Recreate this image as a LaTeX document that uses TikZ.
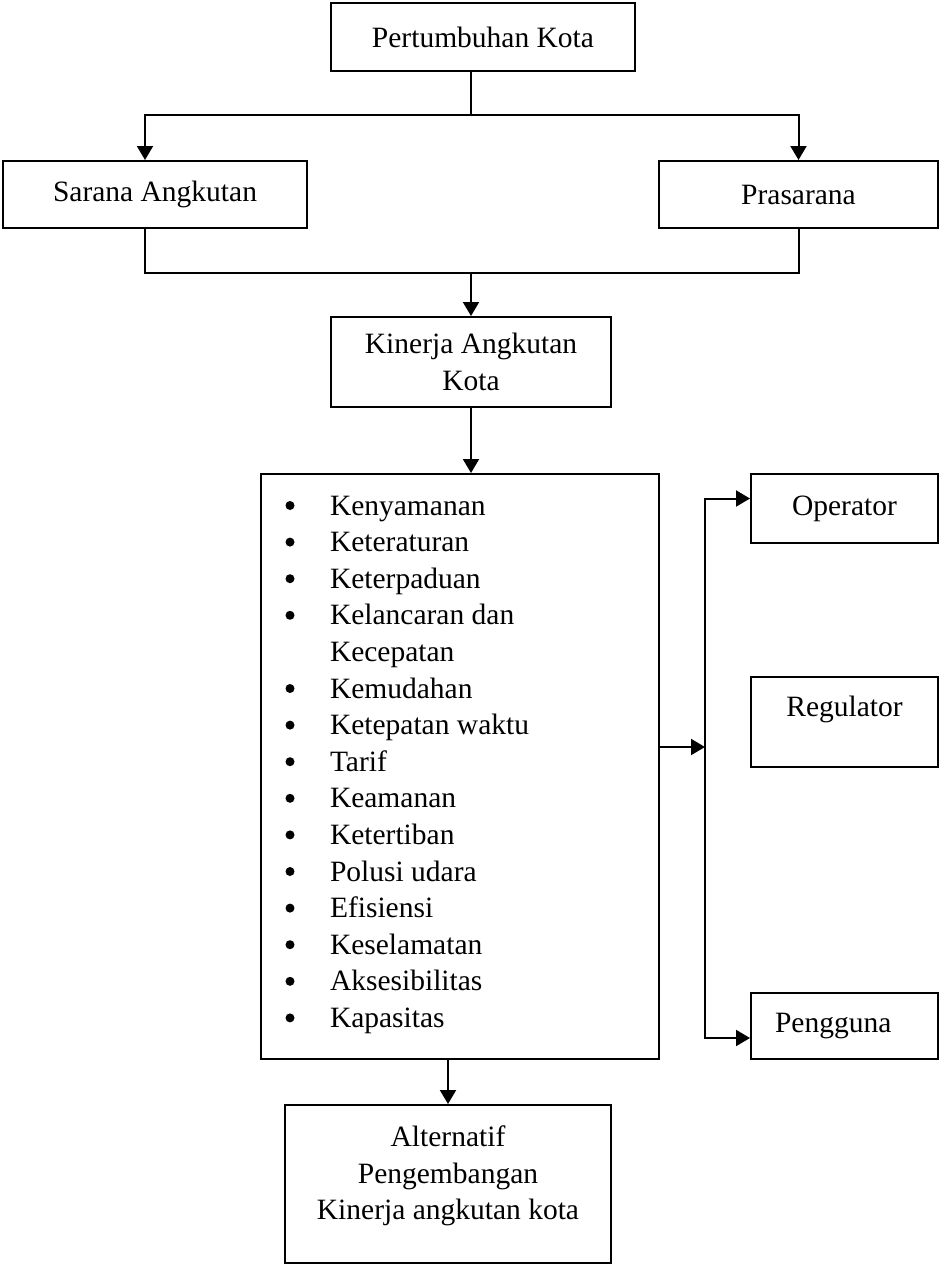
\documentclass[tikz,border=0pt]{standalone}
\usepackage{fontspec}
\setmainfont{Liberation Serif}
\usetikzlibrary{arrows.meta,positioning,calc}

\begin{document}
\begin{tikzpicture}[x=1pt, y=-1pt, line width=2pt,
    every node/.style={font=\fontsize{29.5}{36.6}\selectfont, inner sep=0pt},
    box/.style={draw, line width=2pt, align=center},
    arr/.style={-{Triangle[length=14pt,width=16pt]}},
    item/.style={anchor=base west},
    dot/.style={circle, fill, minimum size=9pt}]
\useasboundingbox (0,0) rectangle (940,1264);

% Top level
\node[box, minimum width=304pt, minimum height=68pt] (pk) at (483,37) {Pertumbuhan Kota};
\node[box, minimum width=304pt, minimum height=67pt] (sa) at (155,194.5) {Sarana Angkutan};
\node[box, minimum width=279pt, minimum height=67pt] (pr) at (798.5,194.5) {Prasarana};
\node[box, minimum width=280pt, minimum height=90pt] (kak) at (471,362) {Kinerja Angkutan\\Kota};

% Criteria list
\node[box, minimum width=398pt, minimum height=585pt] (list) at (460,766.5) {};
\foreach \t [count=\i from 0] in {Kenyamanan, Keteraturan, Keterpaduan, Kelancaran dan, Kecepatan, Kemudahan, Ketepatan waktu, Tarif, Keamanan, Ketertiban, Polusi udara, Efisiensi, Keselamatan, Aksesibilitas, Kapasitas}
    \node[item] (it\i) at (329, 515+36.6*\i) {\t};
\foreach \i in {0,1,2,3,5,6,...,14}
    \node[dot] (bu\i) at (290, 505.5+36.6*\i) {};

% Stakeholders
\node[box, minimum width=187pt, minimum height=69pt] (op) at (844.5,508.5) {Operator};
\node[box, minimum width=187pt, minimum height=90pt] (reg) at (844.5,722) {Regulator\\[-6pt]\mbox{}};
\node[box, text width=139pt, inner xsep=24pt, align=left, minimum height=66pt] (pg) at (844.5,1026) {Pengguna};

% Result
\node[box, minimum width=326pt, minimum height=158pt] (alt) at (448,1184) {Alternatif\\Pengembangan\\Kinerja angkutan kota\\[-14pt]\mbox{}};

% Connectors
\coordinate (split) at (471,115);
\coordinate (join) at (471,273);
\coordinate (bus) at (705,747);
\draw (pk.south -| split) -- (split);
\draw[arr] (split) -| ([xshift=-10pt]sa.north);
\draw[arr] (split) -| (pr.north);
\draw ([xshift=-10pt]sa.south) |- (join) -| (pr.south);
\draw[arr] (join) -- (kak.north);
\draw[arr] (kak.south) -- (kak.south |- list.north);
\draw[arr] (list.east |- bus) -- (bus);
\draw[arr] (bus) |- ([yshift=10pt]op.west);
\draw[arr] (bus) |- ([yshift=-12pt]pg.west);
\draw[arr] (alt.north |- list.south) -- (alt.north);
\end{tikzpicture}
\end{document}
